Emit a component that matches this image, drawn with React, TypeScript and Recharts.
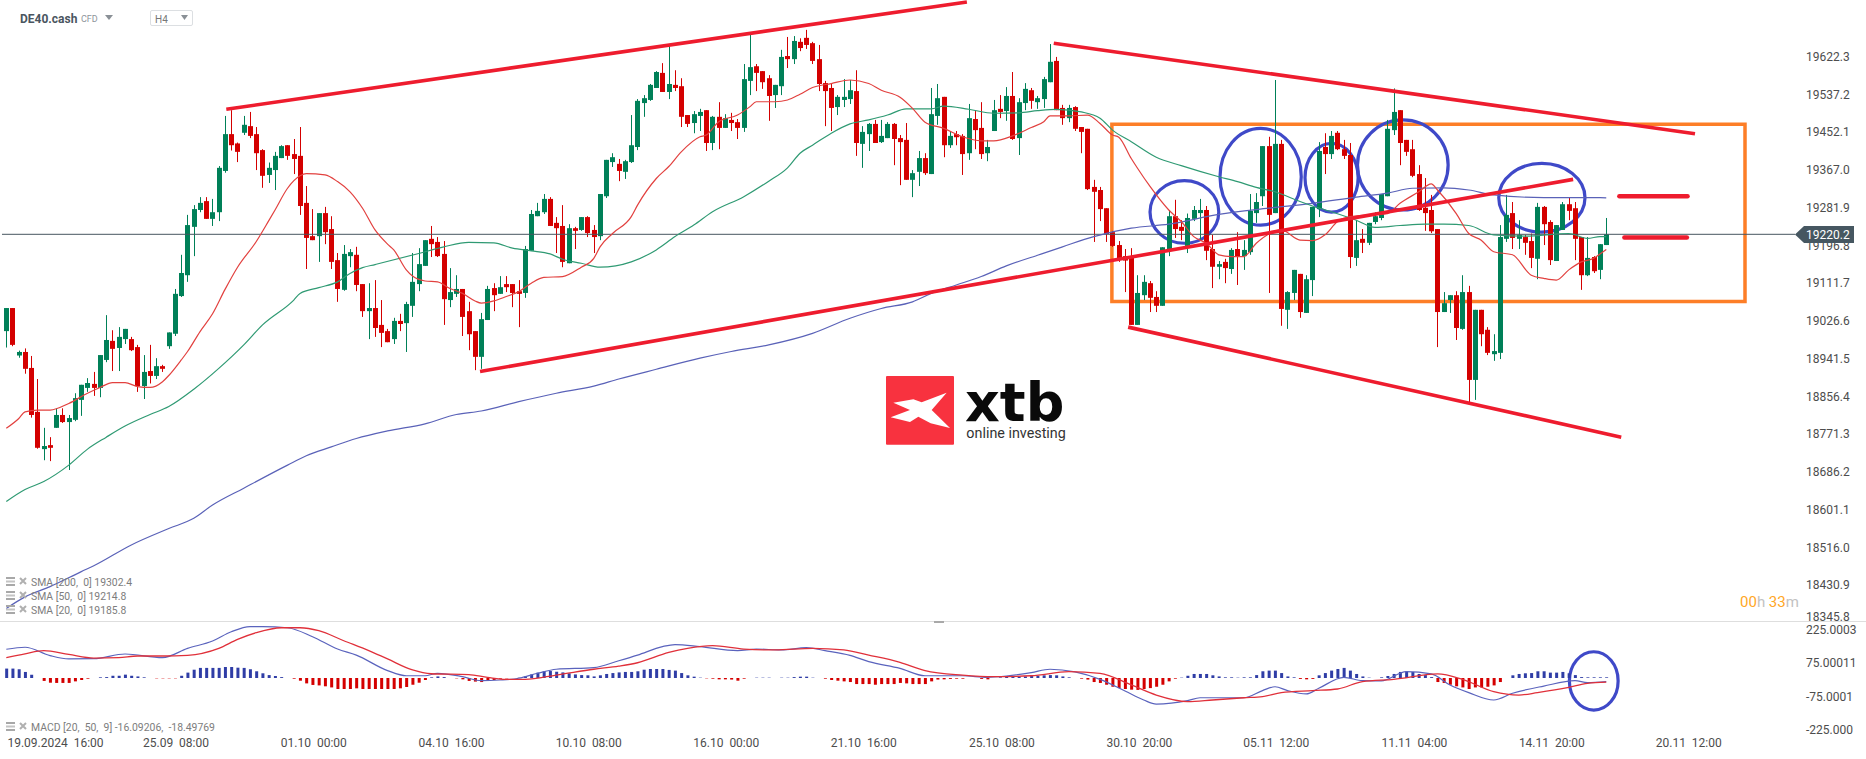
import { Bar, Cell, ComposedChart, Line, ReferenceArea, ReferenceLine, XAxis, YAxis } from "recharts";

// candles, 4h bars from 19.09.2024
const opens = [
  19002,19054,18947,18955,18919,18820,18736,18745,18784,18813,
  18797,18802,18847,18874,18883,18874,18937,18980,18964,18984,
  18984,18966,18878,18912,18901,18923,18968,18996,19081,19128,
  19237,19275,19295,19255,19270,19363,19446,19425,19449,19464,
  19446,19410,19354,19365,19392,19421,19401,19397,19291,19216,
  19216,19268,19232,19162,19095,19171,19174,19108,19047,19054,
  19016,19002,18984,19025,19020,19059,19108,19149,19210,19203,
  19176,19072,19086,19097,19047,19002,18944,19027,19099,19086,
  19108,19108,19092,19088,19183,19261,19270,19300,19246,19239,
  19155,19234,19230,19259,19230,19216,19306,19383,19379,19361,
  19383,19417,19516,19523,19550,19584,19541,19557,19554,19489,
  19471,19487,19500,19426,19485,19460,19478,19473,19460,19566,
  19599,19588,19572,19534,19554,19622,19615,19654,19663,19651,
  19615,19561,19550,19507,19523,19525,19543,19424,19446,19469,
  19428,19437,19469,19437,19433,19343,19361,19392,19356,19487,
  19530,19421,19446,19442,19403,19480,19460,19403,19453,19503,
  19498,19532,19437,19516,19545,19518,19525,19563,19611,19505,
  19482,19507,19462,19458,19327,19320,19279,19225,19196,19171,
  19171,19016,19083,19110,19079,19059,19185,19261,19237,19194,
  19255,19268,19275,19187,19147,19158,19142,19187,19171,19180,
  19268,19306,19419,19268,19424,19050,19088,19131,19043,19117,
  19277,19417,19401,19449,19412,19399,19167,19210,19201,19248,
  19257,19306,19455,19500,19433,19412,19356,19280,19275,19232,
  19045,19072,19083,19007,19090,18892,19050,19005,18950,18953,
  19210,19268,19210,19214,19205,19165,19282,19248,19160,19230,
  19288,19279,19214,19128,19169,19140,19196,
];
const highs = [
  19054,19054,18958,18963,18946,18894,18784,18763,18828,18828,
  18813,18862,18881,18896,18910,18948,19038,19004,19011,19007,
  18989,18971,18948,18971,18941,18926,18999,19097,19174,19264,
  19286,19304,19304,19300,19374,19487,19500,19427,19487,19496,
  19462,19412,19382,19406,19421,19421,19435,19462,19329,19277,
  19268,19282,19261,19178,19196,19187,19192,19108,19110,19117,
  19072,19007,19032,19041,19068,19178,19189,19207,19239,19214,
  19205,19144,19128,19097,19068,19002,19043,19104,19110,19126,
  19126,19108,19117,19194,19275,19291,19311,19304,19259,19286,
  19243,19237,19259,19261,19241,19311,19388,19403,19390,19388,
  19489,19525,19534,19559,19588,19606,19647,19590,19572,19489,
  19498,19503,19500,19487,19518,19491,19494,19480,19604,19672,
  19604,19588,19579,19557,19636,19665,19667,19662,19681,19654,
  19647,19566,19559,19534,19570,19568,19590,19464,19471,19478,
  19478,19473,19471,19444,19471,19365,19408,19403,19550,19559,
  19530,19453,19453,19446,19514,19498,19518,19433,19523,19534,
  19552,19586,19527,19561,19550,19532,19575,19649,19620,19512,
  19512,19509,19462,19458,19343,19327,19279,19228,19205,19187,
  19189,19128,19128,19115,19092,19191,19275,19298,19252,19267,
  19284,19300,19284,19219,19160,19165,19189,19225,19207,19311,
  19313,19419,19440,19568,19433,19092,19140,19131,19128,19282,
  19428,19448,19453,19453,19433,19426,19252,19232,19246,19270,
  19311,19478,19549,19500,19433,19433,19376,19347,19309,19232,
  19090,19083,19092,19128,19104,19050,19050,19011,18995,19241,
  19309,19293,19252,19219,19222,19291,19284,19252,19241,19293,
  19302,19293,19214,19214,19171,19198,19257,
];
const lows = [
  18965,18968,18942,18906,18807,18737,18711,18709,18784,18795,
  18689,18799,18811,18865,18856,18853,18932,18912,18912,18973,
  18957,18865,18849,18884,18894,18910,18962,18991,19079,19113,
  19171,19270,19255,19239,19250,19359,19409,19383,19444,19437,
  19365,19325,19336,19320,19392,19388,19356,19264,19142,19207,
  19158,19198,19142,19068,19093,19146,19092,19034,18984,18989,
  18966,18977,18973,19002,18955,19034,19092,19149,19169,19169,
  19016,19056,19079,18991,18959,18914,18917,19027,19047,19086,
  19090,19056,19011,19077,19183,19261,19266,19239,19178,19146,
  19155,19187,19228,19214,19178,19207,19302,19372,19340,19345,
  19381,19410,19485,19521,19550,19541,19525,19543,19462,19462,
  19448,19453,19408,19410,19412,19460,19453,19435,19451,19534,
  19543,19548,19476,19505,19534,19595,19604,19633,19638,19604,
  19543,19464,19453,19489,19507,19514,19397,19370,19408,19426,
  19426,19437,19376,19331,19343,19304,19329,19354,19356,19467,
  19394,19415,19421,19354,19388,19412,19390,19385,19453,19482,
  19476,19433,19399,19500,19503,19503,19505,19563,19500,19467,
  19473,19453,19403,19320,19203,19250,19203,19192,19158,19090,
  19016,19016,19072,19045,19045,19059,19171,19212,19207,19178,
  19250,19207,19162,19099,19119,19110,19131,19106,19140,19174,
  19246,19284,19088,19268,19014,19007,19072,19032,19043,19081,
  19259,19356,19390,19410,19390,19144,19149,19178,19196,19243,
  19252,19306,19444,19376,19397,19349,19273,19228,19223,18966,
  19045,19043,18982,19005,18842,18847,18968,18948,18935,18939,
  19203,19187,19187,19174,19144,19119,19196,19151,19160,19230,
  19252,19162,19095,19126,19133,19119,19196,
];
const closes = [
  19054,18971,18955,18917,18813,18739,18743,18739,18813,18797,
  18806,18851,18881,18885,18874,18948,18982,18962,18989,19007,
  18959,18878,18910,18901,18923,18917,18999,19086,19133,19241,
  19277,19291,19255,19270,19370,19446,19421,19406,19467,19442,
  19403,19352,19370,19397,19419,19397,19390,19284,19212,19207,
  19268,19225,19158,19097,19176,19180,19106,19047,19054,19009,
  18998,18977,19025,19018,19063,19113,19153,19207,19198,19171,
  19074,19090,19097,19034,18995,18944,19029,19097,19083,19101,
  19101,19088,19086,19187,19266,19273,19300,19239,19234,19158,
  19234,19228,19259,19223,19214,19311,19388,19394,19363,19385,
  19421,19521,19527,19557,19586,19541,19559,19550,19485,19469,
  19491,19496,19426,19485,19460,19482,19471,19460,19570,19597,
  19584,19563,19532,19557,19620,19615,19656,19640,19647,19611,
  19559,19543,19505,19530,19530,19545,19426,19451,19469,19426,
  19442,19469,19435,19428,19343,19358,19392,19358,19491,19527,
  19421,19442,19439,19401,19482,19455,19401,19417,19500,19496,
  19532,19435,19518,19548,19521,19527,19570,19609,19500,19482,
  19505,19458,19451,19322,19316,19277,19221,19194,19165,19161,
  19016,19088,19113,19077,19059,19191,19261,19232,19228,19257,
  19275,19275,19183,19147,19153,19144,19185,19171,19185,19273,
  19293,19419,19264,19424,19052,19090,19140,19045,19119,19282,
  19408,19401,19442,19412,19397,19169,19207,19201,19246,19261,
  19311,19458,19496,19426,19406,19352,19275,19268,19227,19045,
  19065,19083,19009,19090,18892,19050,18995,18953,18957,19214,
  19264,19212,19219,19201,19167,19282,19243,19162,19241,19288,
  19273,19210,19128,19167,19137,19198,19220.2,
];

// moving averages, read at these bar numbers
const sma20Bars = [0,2,3,5,7,10,13,15,17,19,21,23,25,26,28,29,31,33,35,37,40,42,43,45,47,48,51,53,55,57,59,61,62,64,65,67,69,71,73,75,76,78,80,82,84,86,89,92,94,95,97,100,101,104,106,108,111,112,114,117,119,120,123,125,127,129,132,135,138,140,143,145,147,150,153,156,158,161,164,166,167,170,173,175,177,178,180,181,183,186,188,190,192,194,196,198,200,202,204,207,209,211,213,215,218,221,223,226,228,229,232,234,236,238,241,244,246,248,250,252,254,255,256];
const sma20Values = [18783,18805,18820,18824,18824,18839,18862,18875,18886,18886,18877,18875,18888,18902,18937,18956,19001,19041,19096,19146,19204,19251,19275,19324,19352,19357,19354,19339,19316,19279,19230,19198,19185,19140,19126,19115,19113,19098,19087,19070,19065,19070,19080,19091,19110,19123,19125,19146,19166,19192,19222,19260,19286,19346,19373,19406,19440,19444,19474,19489,19508,19519,19519,19523,19536,19551,19560,19568,19560,19545,19529,19504,19473,19459,19440,19431,19431,19442,19461,19474,19487,19487,19489,19470,19444,19439,19391,19369,19328,19275,19249,19215,19200,19174,19170,19170,19200,19221,19230,19207,19206,19219,19249,19260,19264,19267,19290,19316,19334,19320,19267,19222,19207,19181,19174,19128,19121,19117,19140,19158,19166,19176,19186];
const sma50Bars = [0,3,6,10,13,16,19,23,26,30,34,38,41,46,47,50,53,55,57,59,66,70,74,78,81,84,87,89,92,95,100,104,107,110,113,118,122,125,127,129,132,135,138,141,144,148,150,154,158,162,165,168,172,175,177,180,184,188,194,197,200,203,207,209,212,216,219,223,227,230,234,238,243,250,253,255,256];
const sma50Values = [18618,18645,18663,18700,18736,18763,18788,18814,18832,18871,18918,18971,19016,19072,19087,19100,19113,19132,19145,19152,19177,19192,19202,19201,19189,19183,19176,19164,19155,19146,19158,19185,19215,19241,19271,19305,19340,19370,19403,19421,19448,19469,19478,19489,19503,19503,19509,19502,19493,19494,19499,19502,19496,19482,19455,19429,19394,19375,19350,19339,19326,19316,19294,19284,19271,19252,19236,19240,19243,19243,19240,19219,19216,19222,19211,19215,19214.8];
const sma200Bars = [0,3,7,12,14,20,26,30,33,38,45,48,52,56,61,67,72,76,82,88,94,98,104,111,116,122,129,135,140,145,148,152,156,160,165,169,174,180,186,194,202,209,216,221,225,230,234,238,246,255,256];
const sma200Values = [18377,18403,18426,18460,18473,18520,18557,18580,18610,18648,18700,18721,18741,18760,18777,18793,18814,18822,18843,18862,18878,18894,18916,18941,18956,18971,18997,19031,19053,19068,19087,19106,19125,19149,19173,19192,19215,19234,19243,19265,19279,19290,19304,19313,19324,19325,19320,19309,19303,19303,19302.4];

// macd pane
const macdHist = [
  42,42,39,27,15,0,-13,-21,-22,-22,
  -22,-15,-9,-3,0,3,4,10,10,15,
  10,7,3,0,-1.5,-1.5,-1.5,-1.5,10,24,
  37,45,45,45,45,49,49,46,45,39,
  30,21,13,9,4,0,-3,-12,-24,-31,
  -33,-37,-42,-49,-49,-49,-46,-49,-49,-49,
  -49,-49,-49,-46,-40,-30,-21,-9,3,7,
  4,0,-1.5,-6,-13,-16,-18,-12,-9,-3,
  -1.5,0,1.5,7,16,24,30,31,28,25,
  21,16,13,12,7,12,18,22,25,27,
  27,30,37,40,40,40,36,33,22,12,
  6,1.5,-1.5,-3,-6,-6,-7,-12,-3,0,
  1.5,1.5,1.5,0,1.5,1.5,4,6,6,1.5,
  0,-3,-9,-12,-15,-18,-27,-27,-27,-30,
  -27,-27,-27,-22,-24,-27,-27,-27,-15,-7,
  -6,-4,-3,-3,0,0,-4,-6,0,3,
  6,6,6,7,9,10,12,13,12,7,
  3,0,-3,-7,-18,-22,-30,-39,-45,-49,
  -52,-53,-49,-45,-39,-30,-15,-3,1.5,10,
  18,18,18,12,7,3,3,1.5,3,3,
  13,30,33,33,22,7,3,-4,-6,-4,
  12,22,33,40,45,33,18,7,1.5,0,
  3,9,18,27,30,27,18,13,4,-18,
  -22,-30,-37,-42,-49,-42,-42,-39,-33,-18,
  0,12,18,21,22,30,30,24,24,27,
  21,13,4,3,3,3,3,
];
const macdLineBars = [0,3,7,10,14,19,25,29,33,36,39,41,45,49,53,56,61,64,67,69,73,76,79,82,85,88,94,98,101,105,107,111,117,120,124,128,131,135,138,143,147,153,157,160,164,167,171,175,179,182,184,189,191,194,198,201,203,205,208,210,214,217,220,224,228,231,234,238,241,246,251,253,256];
const macdLineValues = [128,137,100,85,86,107,91,132,165,206,229,229,224,184,129,102,33,10,10,21,6,-12,-9,-1,21,39,46,77,102,140,149,140,122,129,125,135,122,101,73,43,10,10,3,9,24,39,27,-6,-58,-98,-116,-101,-88,-88,-88,-56,-39,-56,-71,-46,3,-12,-13,28,18,-31,-65,-98,-68,-36,-12,-21,-16.1];
const signalBars = [0,3,6,10,14,18,21,25,29,34,37,40,44,47,50,54,58,61,65,68,74,77,80,83,88,94,98,101,106,109,113,118,123,129,134,138,143,147,153,158,164,170,175,180,184,189,193,198,201,204,209,213,217,222,229,233,238,242,245,250,253,256];
const signalValues = [91,108,122,105,89,91,98,98,101,132,172,202,224,224,211,166,122,85,36,19,15,3,-6,-6,13,39,53,68,114,132,144,129,125,132,125,102,70,33,13,6,10,28,21,-31,-76,-105,-98,-88,-83,-65,-56,-49,-16,-6,18,-6,-61,-76,-65,-42,-24,-18.5];

// axes
const priceTicks = [19622.3,19537.2,19452.1,19367.0,19281.9,19196.8,19111.7,19026.6,18941.5,18856.4,18771.3,18686.2,18601.1,18516.0,18430.9,18345.8];
const macdTicks = [225,75,-75,-225];
const macdTickLabels = ["225.0003","75.00011","-75.0001","-225.000"];
const timeTicks = [7.87,27.15,49.2,71.25,93.2,115.2,137.2,159.3,181.3,203.2,225.3,247.3,269.2];
const timeLabels = ["19.09.2024  16:00","25.09  08:00","01.10  00:00","04.10  16:00","10.10  08:00","16.10  00:00","21.10  16:00","25.10  08:00","30.10  20:00","05.11  12:00","11.11  04:00","14.11  20:00","20.11  12:00"];
const lastPrice = 19220.2;

// drawings on the chart: bar/price pairs
const trendLines = [
  [35.2,19502,153.7,19744],
  [75.8,18911,250.7,19344],
  [167.6,19651,270.2,19447],
  [179.5,19011,258.4,18763],
];
const levelLines = [
  [258.1,269,19306],
  [258.9,268.9,19213],
];
const rangeBox = [176.9,278.2,19069,19468];
const priceEllipses = [
  [183,194,19200,19341],
  [194.2,207.2,19241,19459],
  [207.8,216.3,19270,19425],
  [216.2,230.7,19275,19478],
  [238.8,252.6,19225,19380],
];
const macdEllipse = [250.1,257.9,-143,117];

const legendRows = ["SMA [200,  0] 19302.4","SMA [50,  0] 19214.8","SMA [20,  0] 19185.8"];

const candles = opens.map((open, i) => ({ i, open, high: highs[i], low: lows[i], close: closes[i], hist: macdHist[i] }));
const toPoints = (bars: number[], values: number[]) => bars.map((i, n) => ({ i, v: values[n] }));

const UP = "#008058";
const DOWN = "#d40000";
const FONT = "Roboto, sans-serif";
const X_DOMAIN: [number, number] = [-1.008, 287];

function Candle(props: any) {
  const { x, y, width, height, payload } = props;
  const k = height / (payload.high - payload.low);
  const top = y + (payload.high - Math.max(payload.open, payload.close)) * k;
  const bottom = y + (payload.high - Math.min(payload.open, payload.close)) * k;
  const color = payload.close >= payload.open ? UP : DOWN;
  const left = Math.round(x + width / 2 - 2.5);
  return (
    <g>
      <rect x={left + 2} y={y} width={1} height={height} fill={color} />
      <rect x={left} y={top} width={5} height={Math.max(bottom - top, 1)} fill={color} />
    </g>
  );
}

function PriceTick(props: any) {
  const { y, payload } = props;
  const last = payload.value === 18345.8;
  return (
    <text x={1806} y={y + (last ? -6 : 0) + 5} fontFamily={FONT} fontSize={12} fill="#4d4d4d">
      {payload.value.toFixed(1)}
    </text>
  );
}

function MacdTick(props: any) {
  const { y, payload } = props;
  return (
    <text x={1806} y={y + 6} fontFamily={FONT} fontSize={12} fill="#4d4d4d">
      {macdTickLabels[macdTicks.indexOf(payload.value)]}
    </text>
  );
}

// y is inside the macd svg, which starts at 621
function TimeTick(props: any) {
  const { x, payload } = props;
  return (
    <text x={x} y={126} textAnchor="middle" fontFamily={FONT} fontSize={12} fill="#4d4d4d" style={{ whiteSpace: "pre" }}>
      {timeLabels[timeTicks.indexOf(payload.value)]}
    </text>
  );
}

const ellipseShape = (props: any) => {
  const { x, y, width, height } = props;
  return (
    <ellipse cx={x + width / 2} cy={y + height / 2} rx={width / 2} ry={height / 2} fill="none" stroke="#3f49c8" strokeWidth={3.2} />
  );
};

function LegendRow({ text, top }: { text: string; top: number }) {
  return (
    <div style={{ position: "absolute", left: 6, top, height: 12, fontFamily: FONT, fontSize: 10.4, lineHeight: "12px", color: "#7d7d7d", whiteSpace: "pre" }}>
      <svg width={22} height={12} style={{ position: "absolute", left: 0, top: -1 }}>
        <rect x={0} y={1} width={9} height={2} fill="#a8a8a8" />
        <rect x={0} y={4.5} width={9} height={2} fill="#c4c4c4" />
        <rect x={0} y={8} width={9} height={2} fill="#a8a8a8" />
        <path d="M14 2 L20 8 M20 2 L14 8" stroke="#b0b0b0" strokeWidth={2} />
      </svg>
      <span style={{ position: "absolute", left: 25, top: 0 }}>{text}</span>
    </div>
  );
}

export default function App() {
  return (
    <div style={{ position: "absolute", left: 0, top: 0, width: 1866, height: 759, background: "#fff", overflow: "hidden" }}>
      {/* main pane */}
      <div style={{ position: "absolute", left: 0, top: 0 }}>
        <ComposedChart width={1866} height={625} data={candles} margin={{ top: 0, right: 0, bottom: 0, left: 0 }}>
          <XAxis dataKey="i" type="number" domain={X_DOMAIN} allowDataOverflow hide />
          <YAxis orientation="right" width={66} type="number" domain={[18339.6, 19748.3]} allowDataOverflow ticks={priceTicks} interval={0} axisLine={false} tickLine={false} tick={<PriceTick />} />
          <ReferenceLine segment={[{ x: -0.69, y: lastPrice }, { x: 286.2, y: lastPrice }]} stroke="#46565f" strokeWidth={1} />
          <Bar dataKey={(d: any) => [d.low, d.high]} barSize={5} shape={<Candle />} isAnimationActive={false} />
          <Line type="monotone" data={toPoints(sma200Bars, sma200Values)} dataKey="v" dot={false} stroke="#5a62b8" strokeWidth={1.2} isAnimationActive={false} />
          <Line type="monotone" data={toPoints(sma50Bars, sma50Values)} dataKey="v" dot={false} stroke="#2f9a73" strokeWidth={1.2} isAnimationActive={false} />
          <Line type="monotone" data={toPoints(sma20Bars, sma20Values)} dataKey="v" dot={false} stroke="#e2413f" strokeWidth={1.2} isAnimationActive={false} />
          {trendLines.map((t, n) => (
            <ReferenceLine key={n} segment={[{ x: t[0], y: t[1] }, { x: t[2], y: t[3] }]} stroke="#ee1c2e" strokeWidth={3.6} />
          ))}
          {levelLines.map((t, n) => (
            <ReferenceLine key={n} segment={[{ x: t[0], y: t[2] }, { x: t[1], y: t[2] }]} stroke="#ee1c2e" strokeWidth={4.5} strokeLinecap="round" />
          ))}
          <ReferenceArea x1={rangeBox[0]} x2={rangeBox[1]} y1={rangeBox[2]} y2={rangeBox[3]} fill="none" fillOpacity={0} stroke="#fd7e27" strokeWidth={3.5} />
          {priceEllipses.map((e, n) => (
            <ReferenceArea key={n} x1={e[0]} x2={e[1]} y1={e[2]} y2={e[3]} shape={ellipseShape} />
          ))}
        </ComposedChart>
      </div>

      {/* macd pane */}
      <div style={{ position: "absolute", left: 0, top: 621, width: 1866, height: 1, background: "#dedede" }} />
      <div style={{ position: "absolute", left: 934, top: 621, width: 10, height: 2, background: "#a9a9a9" }} />
      <div style={{ position: "absolute", left: 0, top: 621 }}>
        <ComposedChart width={1866} height={138} data={candles} margin={{ top: 0, right: 0, bottom: 0, left: 0 }}>
          <XAxis dataKey="i" type="number" domain={X_DOMAIN} allowDataOverflow height={27} ticks={timeTicks} interval={0} axisLine={false} tickLine={false} tick={<TimeTick />} />
          <YAxis orientation="right" width={66} type="number" domain={[-240.6, 254]} allowDataOverflow ticks={macdTicks} interval={0} axisLine={false} tickLine={false} tick={<MacdTick />} />
          <Bar dataKey="hist" barSize={3} isAnimationActive={false}>
            {candles.map((c) => (
              <Cell key={c.i} fill={c.hist >= 0 ? "#2f3da6" : DOWN} />
            ))}
          </Bar>
          <Line type="monotone" data={toPoints(macdLineBars, macdLineValues)} dataKey="v" dot={false} stroke="#5a63bd" strokeWidth={1.2} isAnimationActive={false} />
          <Line type="monotone" data={toPoints(signalBars, signalValues)} dataKey="v" dot={false} stroke="#e0303a" strokeWidth={1.3} isAnimationActive={false} />
          <ReferenceArea x1={macdEllipse[0]} x2={macdEllipse[1]} y1={macdEllipse[2]} y2={macdEllipse[3]} shape={ellipseShape} />
        </ComposedChart>
      </div>

      {/* instrument header */}
      <div style={{ position: "absolute", left: 20, top: 12, fontFamily: FONT, fontSize: 12, fontWeight: 700, lineHeight: "14px", color: "#4a5560" }}>DE40.cash</div>
      <div style={{ position: "absolute", left: 81, top: 14, fontFamily: FONT, fontSize: 9, lineHeight: "11px", color: "#8d949a" }}>CFD</div>
      <svg width={200} height={30} style={{ position: "absolute", left: 0, top: 0 }}>
        <path d="M105 15 L113 15 L109 20 Z" fill="#8a9096" />
        <rect x={150.5} y={10.5} width={42} height={15} rx={1.5} fill="none" stroke="#dcdfe2" />
        <path d="M181 15 L188 15 L184.5 20 Z" fill="#8a9096" />
      </svg>
      <div style={{ position: "absolute", left: 155, top: 14, fontFamily: FONT, fontSize: 10, lineHeight: "12px", color: "#777" }}>H4</div>

      {/* indicator legend */}
      <LegendRow text={legendRows[0]} top={577} />
      <LegendRow text={legendRows[1]} top={591} />
      <LegendRow text={legendRows[2]} top={605} />
      <LegendRow text="MACD [20,  50,  9] -16.09206,  -18.49769" top={722} />

      {/* countdown */}
      <div style={{ position: "absolute", left: 1740, top: 593, fontFamily: FONT, fontSize: 15, lineHeight: "18px", color: "#c2c2c2", whiteSpace: "pre" }}>
        <span style={{ color: "#ffa726" }}>00</span>h <span style={{ color: "#ffa726" }}>33</span>m
      </div>

      {/* last price tag */}
      <div style={{ position: "absolute", left: 1795, top: 226, width: 59, height: 17, background: "#465761", clipPath: "polygon(0 50%, 9px 0, 100% 0, 100% 100%, 9px 100%)" }} />
      <div style={{ position: "absolute", left: 1806, top: 228, fontFamily: FONT, fontSize: 12, lineHeight: "14px", color: "#fff" }}>19220.2</div>

      {/* watermark */}
      <svg width={240} height={100} viewBox="0 0 720 300" style={{ position: "absolute", left: 850, top: 360 }}>
        <rect x={108} y={48} width={204} height={206} rx={3} fill="#f8323f" />
        <path d="M130 128 L190 118 L215 127 L290 98 L245 150 L300 204 L242 190 L205 170 L180 186 L122 172 L180 150 Z" fill="#fff" />
        <text x={345} y={184} fontFamily="'DejaVu Sans', sans-serif" fontWeight={700} fontSize={162} fill="#0a0a0a">xtb</text>
        <text x={349} y={233} fontFamily={FONT} fontWeight={400} fontSize={43} fill="#333">online investing</text>
      </svg>
    </div>
  );
}
